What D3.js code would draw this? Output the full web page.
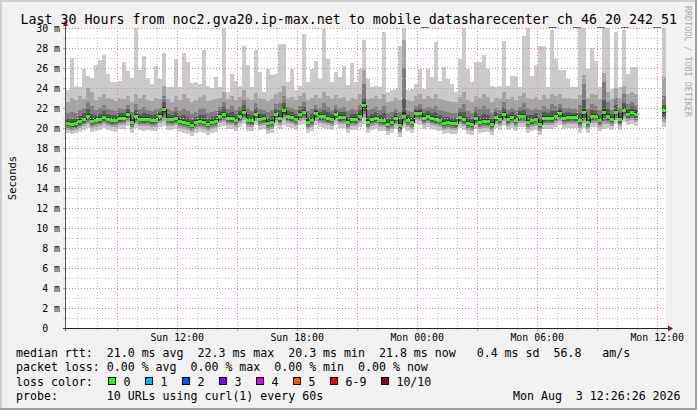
<!DOCTYPE html>
<html>
<head>
<meta charset="utf-8">
<script src="https://cdn.jsdelivr.net/npm/d3@7"></script>
<style>
    html, body { margin: 0; padding: 0; background: #f2f2f2; }
    svg { display: block; }
    text { font-family: "DejaVu Sans Mono", monospace; fill: #000; white-space: pre; }
</style>
</head>
<body>
<script>
const nums = s => s.trim().split(/\s+/).map(v => (v === '-' ? null : +v));

// 12 minute steps, 150 slots over the last 30 hours ('-' = no data)
const endTime = new Date(2026, 7, 3, 12, 26, 26);
const stepMinutes = 12;

const median = nums(`
20.5 20.4 20.5 20.7 20.9 21.2 20.7 20.8 20.9 21.1 20.9 20.8 20.8 21.0 21.0 21.4 20.6 21.2 20.9 20.9 20.9 20.8 20.8 21.2 21.9
20.9 20.9 21.0 20.7 20.6 20.5 20.3 20.6 20.7 20.6 20.4 20.6 20.7 21.2 21.4 21.0 21.0 20.8 21.2 21.6 20.8 20.8 21.4 20.9 21.0
20.5 20.6 21.4 21.0 21.8 21.2 21.1 20.9 21.4 21.6 20.6 20.8 21.5 21.2 21.2 21.0 20.9 21.4 21.1 21.1 20.6 20.9 20.9 21.2 22.3
20.6 20.9 21.0 20.8 20.8 20.4 20.6 21.0 20.3 21.2 20.8 20.6 21.5 21.5 21.0 21.2 21.0 20.9 20.8 20.5 20.6 20.5 20.5 21.1 20.9
20.5 20.4 21.0 20.6 20.7 20.7 20.4 21.1 20.9 21.4 20.9 21.1 20.8 21.2 21.2 20.6 20.8 20.9 20.4 21.0 21.0 21.0 21.2 21.5 21.0
21.1 21.1 21.1 20.8 21.6 20.6 21.2 21.2 20.8 21.6 21.2 20.9 21.6 20.9 21.8 21.4 21.6 21.4 - - - - - - 21.8`);

// sorted ping values per slot, p10 = slowest, p1 = fastest
const p10 = nums(`
23.8 27.0 24.2 24.1 25.9 25.2 25.0 26.3 26.8 27.3 25.4 24.6 24.6 24.7 26.6 25.7 25.0 30.5 25.8 27.2 25.0 24.4 26.2 24.9 27.5
24.1 24.1 26.9 24.1 27.5 26.6 24.5 24.6 24.4 27.8 24.2 24.0 25.1 24.1 30.5 23.6 25.4 24.7 24.2 28.2 26.3 24.1 27.8 25.6 23.6
25.9 25.3 25.4 28.4 28.4 24.6 25.9 23.8 24.2 29.4 24.6 25.9 26.7 24.9 29.9 26.9 24.6 25.6 25.1 26.2 24.3 26.5 24.6 25.9 28.8
24.9 24.1 24.2 24.1 29.6 23.6 23.8 23.9 28.2 30.5 23.8 23.9 24.4 25.9 23.9 25.9 25.1 28.6 24.7 26.1 24.9 24.4 23.6 26.9 30.5
25.9 24.6 26.6 26.6 27.3 25.9 24.2 24.1 24.2 28.7 24.2 25.2 25.2 24.1 29.2 30.5 25.2 26.3 28.2 28.2 24.1 29.8 26.9 25.8 25.8
24.9 24.1 24.1 30.5 30.5 25.9 28.0 26.7 24.1 30.5 30.5 23.9 29.6 24.1 29.8 25.4 26.1 26.1 - - - - - - 30.5`);

const p9 = nums(`
22.6 23.0 22.8 23.2 22.9 24.0 23.6 22.8 23.1 23.4 23.0 22.9 22.7 23.0 22.9 23.2 22.6 23.4 23.0 23.3 22.8 22.7 23.0 22.9 24.2
22.9 22.6 23.2 22.8 23.4 23.0 22.6 22.8 23.1 23.3 22.7 22.8 22.9 23.0 23.6 22.9 23.2 22.8 23.1 23.8 23.0 22.8 23.5 23.0 22.9
22.7 22.9 23.4 23.6 24.2 23.0 23.1 22.8 23.2 23.5 22.8 23.0 23.3 23.0 23.6 23.2 22.9 23.3 23.0 23.1 22.7 23.0 22.9 23.4 25.8
22.9 23.0 23.2 22.9 23.4 22.6 22.7 23.0 22.8 28.8 22.8 22.7 23.2 23.4 22.9 23.2 23.0 23.4 22.9 22.8 22.7 22.6 22.6 23.1 23.6
22.8 22.6 23.2 23.0 23.4 23.1 22.6 23.0 22.9 23.6 22.9 23.1 22.8 23.2 23.5 23.0 22.9 23.1 22.8 23.3 22.9 23.4 23.2 23.4 23.0
23.0 22.9 22.9 23.3 25.3 23.0 23.4 23.3 22.9 25.5 23.6 22.9 24.0 23.0 24.2 23.4 23.6 23.4 - - - - - - 25.1`);

const p8 = nums(`
21.5 21.6 21.5 21.8 22.0 22.6 22.2 21.8 22.0 22.3 21.9 21.8 21.7 22.0 21.9 22.3 21.6 22.4 21.9 22.1 21.8 21.7 21.9 22.0 23.2
21.9 21.7 22.1 21.7 21.9 21.7 21.4 21.6 21.9 22.0 21.5 21.6 21.7 22.1 22.6 21.9 22.2 21.8 22.1 22.8 22.0 21.7 22.5 21.9 21.8
21.6 21.8 22.4 22.5 23.2 22.1 22.0 21.8 22.2 22.6 21.7 21.9 22.3 22.0 22.5 22.1 21.8 22.3 22.0 22.1 21.7 21.9 21.8 22.3 24.4
21.8 21.9 22.1 21.8 22.2 21.5 21.6 21.9 21.6 26.0 21.7 21.6 22.2 22.4 21.9 22.1 22.0 22.2 21.8 21.7 21.6 21.5 21.5 22.0 22.4
21.7 21.5 22.1 21.9 22.2 21.9 21.5 22.0 21.8 22.6 21.8 22.0 21.8 22.1 22.5 22.0 21.8 22.0 21.8 22.2 21.9 22.4 22.2 22.4 22.0
22.0 21.9 21.9 22.3 24.4 21.9 22.4 22.2 21.8 24.6 22.6 21.8 23.0 22.0 23.4 22.4 22.6 22.3 - - - - - - 23.2`);

const p7 = nums(`
21.0 20.9 21.0 21.2 21.5 21.9 21.4 21.3 21.4 21.7 21.4 21.3 21.3 21.5 21.5 21.9 21.1 21.8 21.4 21.5 21.4 21.3 21.4 21.6 22.6
21.4 21.3 21.6 21.2 21.3 21.1 20.8 21.1 21.3 21.3 20.9 21.1 21.2 21.7 22.1 21.5 21.6 21.3 21.7 22.3 21.4 21.3 22.0 21.4 21.4
21.0 21.2 21.9 21.8 22.5 21.7 21.6 21.4 21.8 22.1 21.1 21.4 21.9 21.6 21.8 21.6 21.4 21.9 21.6 21.6 21.1 21.4 21.4 21.8 23.0
21.2 21.4 21.6 21.3 21.5 20.9 21.1 21.5 20.9 23.0 21.3 21.1 21.9 22.0 21.5 21.7 21.5 21.6 21.3 21.1 21.1 21.0 21.0 21.6 21.6
21.1 20.9 21.6 21.2 21.4 21.3 20.9 21.6 21.4 22.0 21.4 21.6 21.3 21.7 21.8 21.3 21.3 21.5 21.0 21.6 21.5 21.7 21.7 22.0 21.5
21.6 21.5 21.5 21.5 22.8 21.2 21.8 21.7 21.3 22.8 21.9 21.4 22.3 21.5 22.5 21.9 22.1 21.9 - - - - - - 22.3`);

const p6 = nums(`
20.7 20.6 20.7 20.9 21.1 21.4 20.9 21.0 21.1 21.3 21.1 21.0 21.0 21.2 21.2 21.6 20.8 21.4 21.1 21.1 21.1 21.0 21.0 21.4 22.1
21.1 21.1 21.2 20.9 20.8 20.7 20.5 20.8 20.9 20.8 20.6 20.8 20.9 21.4 21.6 21.2 21.2 21.0 21.4 21.8 21.0 21.0 21.6 21.1 21.2
20.7 20.8 21.6 21.2 22.0 21.4 21.3 21.1 21.6 21.8 20.8 21.0 21.7 21.4 21.4 21.2 21.1 21.6 21.3 21.3 20.8 21.1 21.1 21.4 22.6
20.8 21.1 21.2 21.0 21.0 20.6 20.8 21.2 20.5 21.6 21.0 20.8 21.7 21.7 21.2 21.4 21.2 21.1 21.0 20.7 20.8 20.7 20.7 21.3 21.1
20.7 20.6 21.2 20.8 20.9 20.9 20.6 21.3 21.1 21.6 21.1 21.3 21.0 21.4 21.4 20.8 21.0 21.1 20.6 21.2 21.2 21.2 21.4 21.7 21.2
21.3 21.3 21.3 21.0 21.9 20.8 21.4 21.4 21.0 21.9 21.4 21.1 21.8 21.1 22.0 21.6 21.8 21.6 - - - - - - 22.0`);

const p5 = nums(`
20.3 20.2 20.3 20.5 20.7 21.0 20.5 20.6 20.7 20.9 20.7 20.6 20.6 20.8 20.8 21.2 20.4 21.0 20.7 20.7 20.7 20.6 20.6 21.0 21.6
20.7 20.7 20.8 20.5 20.4 20.3 20.1 20.4 20.5 20.4 20.2 20.4 20.5 21.0 21.2 20.8 20.8 20.6 21.0 21.4 20.6 20.6 21.2 20.7 20.8
20.3 20.4 21.2 20.8 21.5 21.0 20.9 20.7 21.2 21.4 20.4 20.6 21.3 21.0 21.0 20.8 20.7 21.2 20.9 20.9 20.4 20.7 20.7 21.0 22.0
20.4 20.7 20.8 20.6 20.6 20.2 20.4 20.8 20.1 21.0 20.6 20.4 21.3 21.3 20.8 21.0 20.8 20.7 20.6 20.3 20.4 20.3 20.3 20.9 20.7
20.3 20.2 20.8 20.4 20.5 20.5 20.2 20.9 20.7 21.2 20.7 20.9 20.6 21.0 21.0 20.4 20.6 20.7 20.2 20.8 20.8 20.8 21.0 21.3 20.8
20.9 20.9 20.9 20.6 21.3 20.4 21.0 21.0 20.6 21.3 21.0 20.7 21.4 20.7 21.6 21.2 21.4 21.2 - - - - - - 21.5`);

const p4 = nums(`
20.2 20.1 20.1 20.3 20.5 20.8 20.4 20.5 20.5 20.7 20.6 20.4 20.5 20.6 20.7 21.0 20.3 20.8 20.6 20.5 20.6 20.4 20.5 20.8 21.3
20.6 20.5 20.6 20.4 20.3 20.2 20.0 20.3 20.4 20.3 20.1 20.3 20.4 20.8 21.0 20.7 20.6 20.5 20.8 21.2 20.5 20.4 21.0 20.6 20.6
20.2 20.3 21.0 20.6 21.3 20.8 20.7 20.6 21.0 21.2 20.3 20.5 21.1 20.8 20.8 20.6 20.6 21.0 20.7 20.8 20.3 20.6 20.5 20.8 21.7
20.3 20.6 20.6 20.5 20.4 20.1 20.3 20.7 19.9 20.8 20.5 20.3 21.1 21.1 20.7 20.8 20.6 20.5 20.5 20.2 20.3 20.2 20.1 20.7 20.5
20.2 20.1 20.6 20.3 20.4 20.3 20.1 20.7 20.6 21.0 20.5 20.8 20.5 20.8 20.9 20.3 20.4 20.6 20.1 20.6 20.7 20.6 20.8 21.1 20.7
20.7 20.8 20.7 20.4 21.0 20.3 20.8 20.9 20.5 21.0 20.8 20.6 21.2 20.5 21.4 21.0 21.2 21.0 - - - - - - 21.2`);

const p3 = nums(`
20.0 19.9 20.0 20.2 20.4 20.6 20.2 20.3 20.4 20.6 20.4 20.3 20.3 20.5 20.5 20.8 20.1 20.6 20.4 20.4 20.4 20.3 20.3 20.7 21.0
20.4 20.4 20.5 20.2 20.1 20.0 19.8 20.1 20.2 20.1 19.9 20.1 20.2 20.7 20.8 20.5 20.5 20.3 20.7 21.0 20.3 20.3 20.9 20.4 20.5
20.0 20.1 20.8 20.5 21.1 20.7 20.6 20.4 20.9 21.0 20.1 20.3 20.9 20.7 20.6 20.5 20.4 20.9 20.6 20.6 20.1 20.4 20.4 20.7 21.4
20.1 20.4 20.5 20.3 20.3 19.9 20.1 20.5 19.7 20.6 20.3 20.1 21.0 20.9 20.5 20.7 20.5 20.4 20.3 20.0 20.1 20.0 20.0 20.6 20.4
20.0 19.9 20.5 20.1 20.2 20.2 19.9 20.6 20.4 20.9 20.4 20.6 20.3 20.7 20.7 20.1 20.3 20.4 19.9 20.5 20.5 20.5 20.7 20.9 20.5
20.6 20.6 20.6 20.2 20.8 20.1 20.7 20.7 20.3 20.7 20.6 20.4 21.0 20.4 21.2 20.9 21.0 20.8 - - - - - - 20.9`);

const p2 = nums(`
19.8 19.7 19.8 20.0 20.2 20.4 20.0 20.1 20.2 20.4 20.2 20.1 20.1 20.3 20.3 20.6 19.9 20.4 20.2 20.2 20.2 20.1 20.1 20.5 20.7
20.2 20.2 20.3 20.0 19.9 19.8 19.6 19.9 20.0 19.9 19.7 19.9 20.0 20.5 20.6 20.3 20.3 20.1 20.5 20.8 20.1 20.1 20.7 20.2 20.3
19.8 19.9 20.6 20.3 20.8 20.5 20.4 20.2 20.7 20.8 19.9 20.1 20.7 20.5 20.4 20.3 20.2 20.7 20.4 20.4 19.9 20.2 20.2 20.5 21.0
19.9 20.2 20.3 20.1 20.1 19.7 19.9 20.3 19.5 20.4 20.1 19.9 20.8 20.7 20.3 20.5 20.3 20.2 20.1 19.8 19.9 19.8 19.8 20.4 20.2
19.8 19.7 20.3 19.9 20.0 20.0 19.7 20.4 20.2 20.7 20.2 20.4 20.1 20.5 20.5 19.9 20.1 20.2 19.7 20.3 20.3 20.3 20.5 20.7 20.3
20.4 20.4 20.4 20.0 20.5 19.9 20.5 20.5 20.1 20.4 20.4 20.2 20.8 20.2 21.0 20.7 20.8 20.6 - - - - - - 20.6`);

const p1 = nums(`
19.5 19.4 19.5 19.6 19.8 20.0 19.6 19.7 19.8 20.0 19.8 19.7 19.6 19.9 19.9 20.2 19.5 20.0 19.8 19.7 19.8 19.7 19.7 20.1 20.2
19.8 19.8 19.9 19.6 19.5 19.4 19.2 19.5 19.6 19.5 19.3 19.5 19.6 20.1 20.2 19.9 19.9 19.7 20.1 20.4 19.7 19.7 20.3 19.8 19.9
19.4 19.5 20.2 19.9 20.3 20.1 20.0 19.8 20.3 20.4 19.5 19.7 20.3 20.1 20.0 19.9 19.8 20.3 20.0 20.0 19.5 19.8 19.8 20.1 20.4
19.5 19.8 19.9 19.7 19.7 19.3 19.5 19.9 19.1 20.0 19.7 19.5 20.4 20.3 19.9 20.1 19.9 19.8 19.7 19.4 19.5 19.4 19.4 20.0 19.8
19.4 19.3 19.9 19.5 19.6 19.6 19.3 20.0 19.8 20.3 19.8 20.0 19.7 20.1 20.1 19.5 19.7 19.8 19.3 19.9 19.9 19.9 20.1 20.3 19.9
20.0 20.0 20.0 19.5 20.0 19.5 20.1 20.1 19.7 19.9 20.0 19.8 20.4 19.8 20.6 20.3 20.4 20.2 - - - - - - 20.1`);

const yTicks = d3.range(0, 31, 2);
const lossLabels = ['0', '1', '2', '3', '4', '5', '6-9', '10/10'];
const lossColors = ['#26ff00', '#00b8ff', '#0059ff', '#7e00ff', '#dd00ff', '#ff5500', '#ff0000', '#a10000'];

const titleText = 'Last 30 Hours from noc2.gva20.ip-max.net to mobile_datasharecenter_ch_46_20_242_51';
const legendRtt = 'median rtt:  21.0 ms avg  22.3 ms max  20.3 ms min  21.8 ms now   0.4 ms sd  56.8   am/s';
const legendLoss = 'packet loss: 0.00 % avg  0.00 % max  0.00 % min  0.00 % now';
const legendProbe = 'probe:       10 URLs using curl(1) every 60s';
const stampText = 'Mon Aug  3 12:26:26 2026';

(function () {
    const width = 697;
    const height = 410;
    const charW = 6.98; // legend font advance

    const startTime = d3.timeHour.offset(endTime, -30);
    const x = d3.scaleTime().domain([startTime, endTime]).range([66, 666]);
    const y = d3.scaleLinear().domain([0, 30]).range([328, 28]);
    const slotStart = i => d3.timeMinute.offset(startTime, i * stepMinutes);
    const slots = d3.range(median.length);

    const svg = d3.select('body')
        .append('svg')
        .attr('width', width)
        .attr('height', height);

    // canvas and 3d frame
    svg.append('rect').attr('width', width).attr('height', height).attr('fill', '#f2f2f2');
    svg.append('rect').attr('width', width).attr('height', 2).attr('fill', '#cfcfcf');
    svg.append('rect').attr('width', 2).attr('height', height).attr('fill', '#cfcfcf');
    svg.append('rect').attr('y', height - 2).attr('width', width).attr('height', 2).attr('fill', '#9e9e9e');
    svg.append('rect').attr('x', width - 2).attr('width', 2).attr('height', height).attr('fill', '#9e9e9e');

    const [x0, x1] = x.range();
    const [yBottom, yTop] = y.range();

    svg.append('defs').append('clipPath').attr('id', 'plot-clip')
        .append('rect')
        .attr('x', x0).attr('y', yTop)
        .attr('width', x1 - x0).attr('height', yBottom - yTop);

    svg.append('rect')
        .attr('x', x0).attr('y', yTop)
        .attr('width', x1 - x0).attr('height', yBottom - yTop)
        .attr('fill', '#fff');

    const plot = svg.append('g').attr('clip-path', 'url(#plot-clip)');

    // smoke: outer pair lightest, inner pair darkest
    const layers = [
        { lo: p1, hi: p10, color: '#cacaca' },
        { lo: p2, hi: p9, color: '#a4a4a4' },
        { lo: p3, hi: p8, color: '#7e7e7e' },
        { lo: p4, hi: p7, color: '#585858' },
        { lo: p5, hi: p6, color: '#323232' }
    ];

    layers.forEach(layer => {
        plot.append('g')
            .attr('fill', layer.color)
            .attr('shape-rendering', 'crispEdges')
            .selectAll('rect')
            .data(slots.filter(i => layer.hi[i] != null))
            .join('rect')
            .attr('x', i => x(slotStart(i)))
            .attr('width', i => x(slotStart(i + 1)) - x(slotStart(i)))
            .attr('y', i => y(layer.hi[i]))
            .attr('height', i => y(layer.lo[i]) - y(layer.hi[i]));
    });

    // grid
    const grid = svg.append('g').attr('shape-rendering', 'crispEdges').attr('stroke-width', 1);
    const hours = d3.timeHour.every(1).range(d3.timeHour.ceil(startTime), endTime);
    const isMajorHour = d => d.getHours() % 3 === 0;
    const minorColor = '#c4c4c4';
    const majorColor = '#e08c8c';

    d3.range(1, 31).forEach(v => {
        const yy = Math.round(y(v)) + 0.5;
        const c = v % 2 === 0 ? majorColor : minorColor;
        grid.append('line')
            .attr('x1', x0).attr('x2', x1).attr('y1', yy).attr('y2', yy)
            .attr('stroke', c).attr('stroke-dasharray', '1,2');
        grid.append('line')
            .attr('x1', x0 - 3).attr('x2', x0).attr('y1', yy).attr('y2', yy)
            .attr('stroke', c);
    });

    hours.forEach(d => {
        const xx = Math.floor(x(d)) + 0.5;
        const c = isMajorHour(d) ? majorColor : minorColor;
        grid.append('line')
            .attr('x1', xx).attr('x2', xx).attr('y1', yTop).attr('y2', yBottom)
            .attr('stroke', c).attr('stroke-dasharray', '1,2');
        grid.append('line')
            .attr('x1', xx).attr('x2', xx).attr('y1', yBottom).attr('y2', yBottom + (isMajorHour(d) ? 3 : 2))
            .attr('stroke', c);
    });

    // median: black step line, then loss-colored band on each step
    const medPath = d3.path();
    slots.forEach(i => {
        if (median[i] == null) return;
        const xa = x(slotStart(i));
        const xb = x(slotStart(i + 1));
        const yy = y(median[i]);
        if (i > 0 && median[i - 1] != null) medPath.lineTo(xa, yy);
        else medPath.moveTo(xa, yy);
        medPath.lineTo(xb, yy);
    });

    plot.append('path')
        .attr('d', medPath.toString())
        .attr('transform', 'translate(0.5,0.5)')
        .attr('fill', 'none')
        .attr('stroke', '#111')
        .attr('stroke-width', 1);

    plot.append('g')
        .attr('fill', lossColors[0])
        .attr('shape-rendering', 'crispEdges')
        .selectAll('rect')
        .data(slots.filter(i => median[i] != null))
        .join('rect')
        .attr('x', i => x(slotStart(i)))
        .attr('width', i => x(slotStart(i + 1)) - x(slotStart(i)))
        .attr('y', i => y(median[i] + 0.15) + 0.5)
        .attr('height', i => y(median[i] - 0.15) - y(median[i] + 0.15));

    // axes with arrows
    svg.append('line')
        .attr('x1', x0 - 0.5).attr('x2', x0 - 0.5).attr('y1', yBottom + 3).attr('y2', yTop - 2)
        .attr('stroke', '#555').attr('shape-rendering', 'crispEdges');
    svg.append('line')
        .attr('x1', x0 - 3).attr('x2', x1 + 3).attr('y1', yBottom + 0.5).attr('y2', yBottom + 0.5)
        .attr('stroke', '#222').attr('shape-rendering', 'crispEdges');
    svg.append('path')
        .attr('d', `M${x0 - 3},${yTop - 2}L${x0 + 2},${yTop - 2}L${x0 - 0.5},${yTop - 8}Z`)
        .attr('fill', '#8b1a1a');
    svg.append('path')
        .attr('d', `M${x1 + 2},${yBottom - 2.5}L${x1 + 2},${yBottom + 3.5}L${x1 + 7},${yBottom + 0.5}Z`)
        .attr('fill', '#8b1a1a');

    // tick labels
    svg.append('g')
        .selectAll('text')
        .data(yTicks)
        .join('text')
        .attr('x', d => (d === 0 ? 60 - 2 * 5.96 : 60))
        .attr('y', d => y(d) + 3.6)
        .attr('text-anchor', 'end')
        .style('font-size', '9.9px')
        .text(d => (d === 0 ? '0' : `${d} m`));

    const fmt = d3.timeFormat('%a %H:%M');
    svg.append('g')
        .selectAll('text')
        .data(hours.filter(d => d.getHours() % 6 === 0))
        .join('text')
        .attr('x', d => x(d))
        .attr('y', 340.6)
        .attr('text-anchor', 'middle')
        .style('font-size', '9.9px')
        .text(d => fmt(d));

    // title, vertical labels
    svg.append('text')
        .attr('x', 20.5).attr('y', 23.5)
        .style('font-size', '13.3px')
        .text(titleText);

    svg.append('text')
        .attr('transform', `translate(15.5,${(yTop + yBottom) / 2}) rotate(-90)`)
        .attr('text-anchor', 'middle')
        .style('font-size', '10.5px')
        .text('Seconds');

    svg.append('text')
        .attr('transform', 'translate(684.5,6) rotate(90)')
        .style('font-size', '8.4px')
        .style('fill', '#a8a8a8')
        .text('RRDTOOL / TOBI OETIKER');

    // legend
    const legend = svg.append('g').style('font-size', '11.6px');
    legend.append('text').attr('x', 16).attr('y', 357.3).text(legendRtt);
    legend.append('text').attr('x', 16).attr('y', 371.4).text(legendLoss);
    legend.append('text').attr('x', 16).attr('y', 385.5).text('loss color:');
    legend.append('text').attr('x', 16).attr('y', 399.6).text(legendProbe);
    legend.append('text').attr('x', 513).attr('y', 399.6).text(stampText);

    let cursor = 108.3;
    lossLabels.forEach((label, i) => {
        legend.append('rect')
            .attr('x', Math.round(cursor) + 0.5).attr('y', 377.5)
            .attr('width', 7).attr('height', 7)
            .attr('fill', lossColors[i])
            .attr('stroke', '#000')
            .attr('shape-rendering', 'crispEdges');
        legend.append('text')
            .attr('x', cursor + 15.3).attr('y', 385.5)
            .text(label);
        cursor += 15.5 + label.length * charW + 14.5;
    });
})();
</script>
</body>
</html>
